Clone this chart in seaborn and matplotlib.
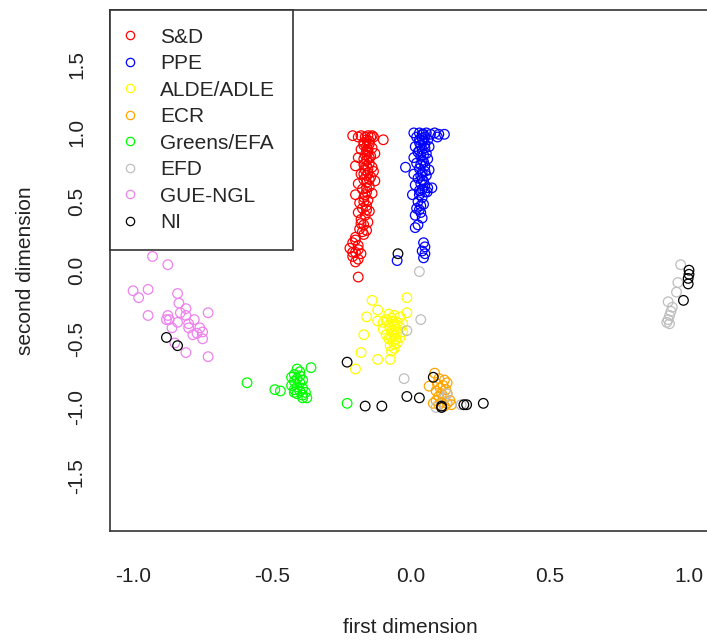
import numpy as np
import pandas as pd
import matplotlib
matplotlib.use("Agg")
import matplotlib.pyplot as plt
import seaborn as sns
from matplotlib.lines import Line2D

sns.set_style("white")
plt.rcParams['font.family'] = ['Liberation Sans', 'DejaVu Sans']
plt.rcParams['axes.unicode_minus'] = False

# ------------------------------------------------------------
# Data
# ------------------------------------------------------------
groups = ['S&D', 'PPE', 'ALDE/ADLE', 'ECR', 'Greens/EFA', 'EFD', 'GUE-NGL', 'NI']
group_colors = ['#FF0000', '#0000FF', '#FFFF00', '#FFA500', '#00FF00',
                '#BEBEBE', '#EE82EE', '#000000']

sd_x = [-0.21, -0.19, -0.18, -0.165, -0.155, -0.145, -0.14, -0.135, -0.10,
        -0.17, -0.15, -0.16, -0.14, -0.18, -0.155, -0.165, -0.145, -0.19, -0.16,
        -0.15, -0.17, -0.14, -0.20, -0.165, -0.155, -0.18, -0.145, -0.17, -0.16,
        -0.19, -0.15, -0.175, -0.16, -0.14, -0.20, -0.17, -0.155, -0.185, -0.16,
        -0.175, -0.15, -0.19, -0.165, -0.18, -0.155, -0.17, -0.185, -0.16, -0.17,
        -0.20, -0.21, -0.19, -0.22, -0.20, -0.18, -0.21, -0.19, -0.20, -0.19,
        -0.13, -0.13, -0.135,
        -0.16, -0.15, -0.17, -0.155, -0.16, -0.15, -0.17, -0.16, -0.155, -0.17,
        -0.16, -0.15, -0.16, -0.165, -0.17, -0.16, -0.18, -0.175, -0.20, -0.19,
        -0.21]
sd_y = [0.98, 0.97, 0.98, 0.97, 0.98, 0.97, 0.98, 0.97, 0.95,
        0.93, 0.92, 0.90, 0.89, 0.88, 0.86, 0.84, 0.83, 0.82, 0.80,
        0.78, 0.77, 0.75, 0.76, 0.73, 0.71, 0.70, 0.68, 0.66, 0.64,
        0.63, 0.61, 0.59, 0.57, 0.56, 0.55, 0.53, 0.51, 0.49, 0.47,
        0.45, 0.43, 0.42, 0.40, 0.37, 0.35, 0.33, 0.30, 0.29, 0.26,
        0.24, 0.20, 0.18, 0.16, 0.13, 0.12, 0.10, 0.08, 0.06, -0.05,
        0.65, 0.85, 0.72,
        0.95, 0.94, 0.91, 0.88, 0.87, 0.82, 0.81, 0.76, 0.74, 0.70,
        0.69, 0.66, 0.60, 0.55, 0.50, 0.44, 0.34, 0.28, 0.22, 0.15,
        0.13]

ppe_x = [0.01, 0.03, 0.045, 0.055, 0.07, 0.085, 0.12,
         0.02, 0.04, 0.06, 0.03, 0.05, 0.015, 0.065, 0.04, 0.025, 0.055,
         0.035, 0.01, 0.06, 0.045, 0.02, 0.05, 0.03, 0.065, 0.04, 0.01,
         0.055, 0.025, 0.045, 0.035, 0.015, 0.06, 0.03, 0.05, 0.005, 0.04,
         0.025, 0.045, 0.02, 0.035, 0.015, 0.04, 0.025, 0.015,
         0.045, 0.05, 0.04, 0.05, 0.045, -0.02, -0.05, 0.075, 0.058,
         0.04, 0.05, 0.03, 0.045, 0.035, 0.05, 0.03, 0.045, 0.04, 0.035,
         0.05, 0.035, 0.04, 0.05, 0.04, 0.03, 0.035, 0.03, 0.10, 0.095]
ppe_y = [1.0, 1.0, 0.99, 1.0, 0.99, 1.0, 0.99,
         0.97, 0.96, 0.95, 0.93, 0.92, 0.90, 0.90, 0.88, 0.86, 0.85,
         0.83, 0.82, 0.81, 0.79, 0.78, 0.76, 0.74, 0.73, 0.71, 0.70,
         0.69, 0.67, 0.65, 0.63, 0.62, 0.60, 0.58, 0.57, 0.55, 0.53,
         0.50, 0.48, 0.45, 0.42, 0.40, 0.38, 0.33, 0.31,
         0.20, 0.17, 0.14, 0.12, 0.09, 0.75, 0.07, 0.60, 0.57,
         0.99, 0.97, 0.95, 0.94, 0.91, 0.89, 0.87, 0.84, 0.80, 0.77,
         0.72, 0.69, 0.66, 0.62, 0.59, 0.55, 0.47, 0.44, 0.99, 0.97]

alde_x = [-0.08, -0.06, -0.04, -0.09, -0.07, -0.05, -0.03, -0.08, -0.06, -0.04,
          -0.10, -0.07, -0.05, -0.09, -0.06, -0.04, -0.08, -0.065, -0.05, -0.075,
          -0.06, -0.07, -0.10, -0.03,
          -0.14, -0.015, -0.12, -0.16, -0.12, -0.015, -0.17, -0.18, -0.20, -0.12,
          -0.075,
          -0.07, -0.06, -0.075, -0.055, -0.065, -0.07, -0.055, -0.06]
alde_y = [-0.32, -0.33, -0.34, -0.36, -0.37, -0.38, -0.39, -0.40, -0.41, -0.42,
          -0.43, -0.44, -0.45, -0.47, -0.48, -0.49, -0.50, -0.52, -0.53, -0.55,
          -0.57, -0.59, -0.38, -0.45,
          -0.22, -0.20, -0.29, -0.34, -0.37, -0.31, -0.47, -0.60, -0.72, -0.65,
          -0.65,
          -0.35, -0.39, -0.42, -0.43, -0.46, -0.49, -0.50, -0.54]

ecr_x = [0.085, 0.065, 0.10, 0.12, 0.095, 0.115, 0.13, 0.105, 0.125, 0.09, 0.11,
         0.13, 0.10, 0.12, 0.14, 0.09, 0.11, 0.13, 0.10, 0.12, 0.145, 0.08]
ecr_y = [-0.75, -0.845, -0.79, -0.80, -0.83, -0.84, -0.82, -0.86, -0.87, -0.88,
         -0.90, -0.90, -0.92, -0.93, -0.95, -0.95, -0.96, -0.97, -0.98, -0.99,
         -0.98, -0.97]

greens_x = [-0.59, -0.49, -0.47, -0.36, -0.375, -0.39, -0.23,
            -0.41, -0.40, -0.42, -0.40, -0.43, -0.41, -0.39, -0.42, -0.40, -0.43,
            -0.41, -0.39, -0.42, -0.40, -0.38, -0.41, -0.39, -0.42]
greens_y = [-0.82, -0.87, -0.88, -0.71, -0.93, -0.93, -0.97,
            -0.72, -0.74, -0.76, -0.77, -0.78, -0.79, -0.80, -0.81, -0.82, -0.84,
            -0.85, -0.86, -0.87, -0.88, -0.89, -0.90, -0.91, -0.89]

efd_x = [0.97, 0.96, 0.955, 0.925, 0.94, 0.935, 0.93, 0.925, 0.92, 0.93,
         0.03, 0.035, -0.015, -0.025, 0.13, 0.09, 0.18, 0.12]
efd_y = [0.04, -0.09, -0.16, -0.23, -0.27, -0.30, -0.33, -0.36, -0.38, -0.39,
         -0.01, -0.36, -0.44, -0.79, -0.90, -1.0, -0.98, -0.93]

gue_x = [-0.93, -0.875, -1.0, -0.98, -0.946, -0.84, -0.835, -0.946, -0.73,
         -0.875, -0.87, -0.83, -0.81, -0.81, -0.84, -0.80, -0.78, -0.785, -0.76,
         -0.75, -0.75, -0.77, -0.86, -0.88, -0.81, -0.73, -0.85, -0.80]
gue_y = [0.10, 0.04, -0.15, -0.20, -0.14, -0.17, -0.24, -0.33, -0.31,
         -0.33, -0.36, -0.31, -0.28, -0.33, -0.38, -0.42, -0.36, -0.47, -0.42,
         -0.45, -0.50, -0.46, -0.42, -0.36, -0.60, -0.63, -0.53, -0.39]

ni_x = [1.0, 1.0, 0.997, 0.997, 0.98, -0.047, -0.23, 0.08, -0.015, 0.03,
        -0.165, -0.105, 0.11, 0.11, 0.19, 0.20, 0.26, -0.88, -0.84]
ni_y = [0.0, -0.03, -0.06, -0.10, -0.22, 0.12, -0.67, -0.78, -0.92, -0.93,
        -0.99, -0.99, -0.99, -1.0, -0.98, -0.98, -0.97, -0.49, -0.55]

xs = [sd_x, ppe_x, alde_x, ecr_x, greens_x, efd_x, gue_x, ni_x]
ys = [sd_y, ppe_y, alde_y, ecr_y, greens_y, efd_y, gue_y, ni_y]

df = pd.concat([pd.DataFrame({'first': x, 'second': y, 'group': g})
                for g, x, y in zip(groups, xs, ys)], ignore_index=True)

# ------------------------------------------------------------
# Plot
# ------------------------------------------------------------
fig = plt.figure(figsize=(7.07, 6.4), dpi=100)
ax = fig.add_axes([0.1556, 0.1703, 0.850, 0.814])

palette = dict(zip(groups, group_colors))
for g in groups:
    sub = df[df['group'] == g]
    sns.scatterplot(data=sub, x='first', y='second', ax=ax, s=48,
                    facecolor='none', edgecolor=palette[g], linewidth=0.9,
                    legend=False)

ax.set_xlim(-1.083, 1.079)
ax.set_ylim(-1.9, 1.895)
ax.set_xticks([-1.0, -0.5, 0.0, 0.5, 1.0])
ax.set_xticklabels(['-1.0', '-0.5', '0.0', '0.5', '1.0'])
ax.set_yticks([-1.5, -1.0, -0.5, 0.0, 0.5, 1.0, 1.5])
ax.set_yticklabels(['-1.5', '-1.0', '-0.5', '0.0', '0.5', '1.0', '1.5'],
                   rotation=90, va='center')
ax.tick_params(axis='both', direction='out', length=7, width=1,
               color='#333333', labelsize=15, labelcolor='#222222')
ax.tick_params(axis='x', pad=19)
ax.tick_params(axis='y', pad=10)
ax.set_xlabel('first dimension', fontsize=15, color='#222222', labelpad=23)
ax.set_ylabel('second dimension', fontsize=15, color='#222222', labelpad=23)
for sp in ax.spines.values():
    sp.set_color('#333333')
    sp.set_linewidth(1.2)

handles = [Line2D([], [], marker='o', linestyle='none', markersize=6,
                  markerfacecolor='none', markeredgecolor=c, markeredgewidth=0.9)
           for c in group_colors]
leg = ax.legend(handles, groups, loc='upper left', bbox_to_anchor=(0, 1),
                borderaxespad=0, fancybox=False, framealpha=1,
                edgecolor='#333333', fontsize=15, labelspacing=0.36,
                handletextpad=1.33, borderpad=0.85, handlelength=0.22)
leg.get_frame().set_linewidth(1.2)

plt.savefig('out.png', dpi=100)
